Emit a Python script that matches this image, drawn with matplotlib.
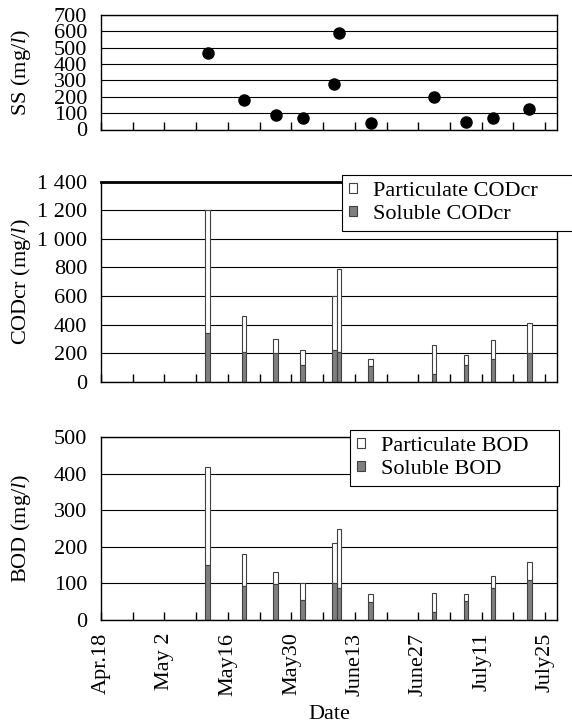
import numpy as np
import pandas as pd
import matplotlib
matplotlib.use('Agg')
import matplotlib.pyplot as plt
import matplotlib.ticker as ticker

plt.rcParams['font.family'] = ['Liberation Serif', 'DejaVu Serif']
plt.rcParams['font.size'] = 16
plt.rcParams['mathtext.fontset'] = 'custom'
plt.rcParams['mathtext.rm'] = 'Liberation Serif'
plt.rcParams['mathtext.it'] = 'Liberation Serif:italic'

#--------- data ---------
start = pd.Timestamp('2006-04-18')
dates = ['2006-05-11', '2006-05-19', '2006-05-26', '2006-06-01', '2006-06-08', '2006-06-09',
         '2006-06-16', '2006-06-30', '2006-07-07', '2006-07-13', '2006-07-21']
ss = [470, 180, 90, 68, 280, 590, 38, 200, 48, 72, 128]

cod_total = [1200, 460, 300, 220, 600, 790, 160, 260, 190, 290, 410]
cod_sol = [340, 210, 200, 120, 220, 210, 110, 55, 120, 160, 200]

bod_total = [420, 180, 130, 100, 210, 250, 72, 75, 72, 120, 160]
bod_sol = [150, 93, 99, 54, 100, 87, 49, 23, 52, 87, 110]

tick_labels = ['Apr.18', 'May 2', 'May16', 'May30', 'June13', 'June27', 'July11', 'July25']

day = (pd.to_datetime(dates) - start).days.values
cod_part = np.array(cod_total) - np.array(cod_sol)
bod_part = np.array(bod_total) - np.array(bod_sol)

#--------- plotting ---------
W, H = 572, 726
fig = plt.figure(figsize=(W/100, H/100), dpi=100)
ax1 = fig.add_axes([101/W, 1-129.5/H, 456/W, 114.5/H])
ax2 = fig.add_axes([101/W, 1-381.7/H, 456/W, 200/H])
ax3 = fig.add_axes([101/W, 1-620/H, 456/W, 182.7/H])

for ax in (ax1, ax2, ax3):
    ax.set_xlim(0, 100.6)
    ax.xaxis.set_major_locator(ticker.MultipleLocator(14))
    ax.xaxis.set_minor_locator(ticker.MultipleLocator(7))
    ax.tick_params(axis='x', which='both', direction='in', length=6, width=1, top=False)
    ax.tick_params(axis='y', length=0, pad=10)
    ax.yaxis.grid(True, color='black', lw=0.8)
    ax.set_axisbelow(True)
    for s in ax.spines.values():
        s.set_linewidth(1)
    ax.yaxis.set_label_coords(-0.149, 0.5)

leg_kw = dict(loc='upper left', mode='expand', borderaxespad=0, fancybox=False,
              edgecolor='black', framealpha=1, fontsize=16, handlelength=0.38,
              handleheight=0.33, handletextpad=0.7, labelspacing=0.2, borderpad=0.3)

# SS
ax1.plot(day + 0.5, ss, 'o', color='black', ms=8)
ax1.set_ylim(0, 700)
ax1.yaxis.set_major_locator(ticker.MultipleLocator(100))
ax1.set_xticklabels([])
ax1.set_ylabel(r'SS (mg/$\mathit{l}$)')

# CODcr
w = 1.0
ax2.bar(day, cod_part, w, bottom=cod_sol, align='edge', color='white', edgecolor='#404040',
        lw=0.8, label='Particulate CODcr')
ax2.bar(day, cod_sol, w, align='edge', color='#7f7f7f', edgecolor='#404040', lw=0.8,
        label='Soluble CODcr')
ax2.set_ylim(0, 1400)
ax2.set_yticks(np.arange(0, 1401, 200))
ax2.set_yticklabels(['0', '200', '400', '600', '800', '1 000', '1 200', '1 400'])
ax2.set_xticklabels([])
ax2.spines['top'].set_linewidth(2)
ax2.set_ylabel(r'CODcr (mg/$\mathit{l}$)')
leg = ax2.legend(bbox_to_anchor=(0.5285, 0.5, 0.53, 0.5335), **leg_kw)
leg.get_frame().set_linewidth(0.8)

# BOD
ax3.bar(day, bod_part, w, bottom=bod_sol, align='edge', color='white', edgecolor='#404040',
        lw=0.8, label='Particulate BOD')
ax3.bar(day, bod_sol, w, align='edge', color='#7f7f7f', edgecolor='#404040', lw=0.8,
        label='Soluble BOD')
ax3.set_ylim(0, 500)
ax3.yaxis.set_major_locator(ticker.MultipleLocator(100))
ax3.set_xticks(np.arange(0, 99, 14))
ax3.set_xticklabels(tick_labels, rotation=90)
ax3.tick_params(axis='x', which='major', pad=9)
ax3.set_ylabel(r'BOD (mg/$\mathit{l}$)')
ax3.set_xlabel('Date', labelpad=7)
leg = ax3.legend(bbox_to_anchor=(0.546, 0.5, 0.459, 0.54), **leg_kw)
leg.get_frame().set_linewidth(0.8)

fig.savefig('out.png', dpi=100)
